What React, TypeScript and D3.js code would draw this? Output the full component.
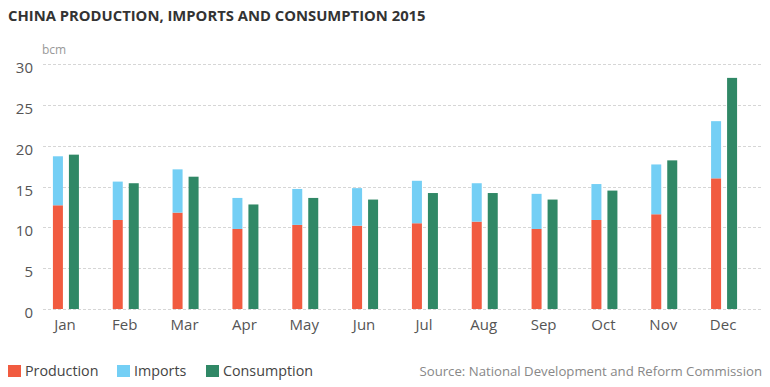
import React, { useRef, useEffect } from 'react';
import * as d3 from 'd3';

const months = ['Jan', 'Feb', 'Mar', 'Apr', 'May', 'Jun', 'Jul', 'Aug', 'Sep', 'Oct', 'Nov', 'Dec'];
const production = [12.7, 10.9, 11.8, 9.8, 10.3, 10.2, 10.5, 10.7, 9.8, 10.9, 11.6, 16.0];
const imports = [6.0, 4.7, 5.3, 3.8, 4.4, 4.6, 5.2, 4.7, 4.3, 4.4, 6.1, 7.0];
const consumption = [18.9, 15.4, 16.2, 12.8, 13.6, 13.4, 14.2, 14.2, 13.4, 14.5, 18.2, 28.3];
const yTicks = [0, 5, 10, 15, 20, 25, 30];

const legendItems = [
  { label: 'Production', color: '#f15b40', x: 8 },
  { label: 'Imports', color: '#74cff5', x: 117 },
  { label: 'Consumption', color: '#308866', x: 206 },
];

const FONT = "'Open Sans', 'Noto Sans', sans-serif";

const App: React.FC = () => {
  const svgRef = useRef<SVGSVGElement | null>(null);
  const width = 770;
  const height = 387;

  useEffect(() => {
    const svg = d3.select(svgRef.current);
    svg.selectAll('*').remove();

    const x = d3.scaleBand<string>().domain(months).range([36, 754]);
    const y = d3.scaleLinear().domain([0, 30]).range([309, 64]);

    // title
    svg.append('text')
      .attr('x', 8)
      .attr('y', 21)
      .style('font-family', FONT)
      .style('font-weight', 'bold')
      .style('font-size', '14.8px')
      .style('fill', '#333')
      .text('CHINA PRODUCTION, IMPORTS AND CONSUMPTION 2015');

    // unit
    svg.append('text')
      .attr('x', 42)
      .attr('y', 54)
      .style('font-family', FONT)
      .style('font-size', '12px')
      .style('fill', '#999')
      .text('bcm');

    // gridlines
    svg.append('g')
      .selectAll('line')
      .data(yTicks)
      .enter()
      .append('line')
      .attr('x1', 43)
      .attr('x2', 762)
      .attr('y1', d => Math.round(y(d)) + 0.5)
      .attr('y2', d => Math.round(y(d)) + 0.5)
      .style('stroke', '#d6d6d6')
      .style('stroke-width', 1)
      .style('stroke-dasharray', '3,2');

    // y labels
    svg.append('g')
      .selectAll('text')
      .data(yTicks)
      .enter()
      .append('text')
      .attr('x', 33)
      .attr('y', d => y(d) + 9)
      .attr('text-anchor', 'end')
      .style('font-family', FONT)
      .style('font-size', '15px')
      .style('fill', '#555')
      .text(d => d);

    // x labels
    svg.append('g')
      .selectAll('text')
      .data(months)
      .enter()
      .append('text')
      .attr('x', d => (x(d) as number) + x.bandwidth() / 2 - 1)
      .attr('y', 330)
      .attr('text-anchor', 'middle')
      .style('font-family', FONT)
      .style('font-size', '15px')
      .style('fill', '#555')
      .text(d => d);

    const barW = 10;
    const gap = 3;
    const center = (m: string) => (x(m) as number) + x.bandwidth() / 2;

    const bars = svg.append('g');
    // production
    bars.selectAll('.prod')
      .data(months)
      .enter()
      .append('rect')
      .attr('x', d => center(d) - gap - barW)
      .attr('width', barW)
      .attr('y', (d, i) => y(production[i]))
      .attr('height', (d, i) => y(0) - y(production[i]))
      .style('fill', legendItems[0].color);
    // imports stacked on production
    bars.selectAll('.imp')
      .data(months)
      .enter()
      .append('rect')
      .attr('x', d => center(d) - gap - barW)
      .attr('width', barW)
      .attr('y', (d, i) => y(production[i] + imports[i]))
      .attr('height', (d, i) => y(production[i]) - y(production[i] + imports[i]))
      .style('fill', legendItems[1].color);
    // consumption
    bars.selectAll('.cons')
      .data(months)
      .enter()
      .append('rect')
      .attr('x', d => center(d) + gap)
      .attr('width', barW)
      .attr('y', (d, i) => y(consumption[i]))
      .attr('height', (d, i) => y(0) - y(consumption[i]))
      .style('fill', legendItems[2].color);

    // legend
    const legend = svg.append('g');
    legendItems.forEach(item => {
      legend.append('rect')
        .attr('x', item.x)
        .attr('y', 365)
        .attr('width', 13)
        .attr('height', 12)
        .style('fill', item.color);
      legend.append('text')
        .attr('x', item.x + 17)
        .attr('y', 376)
        .style('font-family', FONT)
        .style('font-size', '14.3px')
        .style('fill', '#444')
        .text(item.label);
    });

    svg.append('text')
      .attr('x', 762)
      .attr('y', 376)
      .attr('text-anchor', 'end')
      .style('font-family', FONT)
      .style('font-size', '13.2px')
      .style('fill', '#888')
      .text('Source: National Development and Reform Commission');
  }, []);

  return (
    <svg
      ref={svgRef}
      width={width}
      height={height}
      style={{ position: 'absolute', left: 0, top: 0, background: '#fff' }}
    />
  );
};

export default App;
